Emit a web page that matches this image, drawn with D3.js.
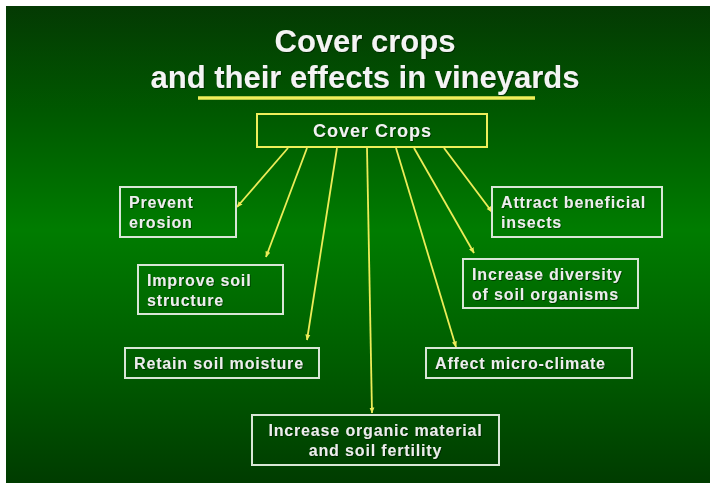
<!DOCTYPE html>
<html>
<head>
<meta charset="utf-8">
<script src="https://cdn.jsdelivr.net/npm/d3@7"></script>
<style>
  html, body { margin: 0; padding: 0; background: #fff; }
  svg { display: block; }
</style>
</head>
<body>
<div id="chart"></div>
<script>
// chart content
const titleLines = ['Cover crops', 'and their effects in vineyards'];
const rootLabel = 'Cover Crops';
const effectLabels = [
  ['Prevent', 'erosion'],
  ['Improve soil', 'structure'],
  ['Retain soil moisture'],
  ['Increase organic material', 'and soil fertility'],
  ['Affect micro-climate'],
  ['Increase diversity', 'of soil organisms'],
  ['Attract beneficial', 'insects']
];

// layout (pixel positions of the slide)
const rootBox = { x: 257, y: 114, w: 230, h: 33 };
const effectBoxes = [
  { x: 120, y: 187, w: 116, h: 50, align: 'start', from: 288, to: [237, 207] },
  { x: 138, y: 265, w: 145, h: 49, align: 'start', from: 307, to: [266, 257] },
  { x: 125, y: 348, w: 194, h: 30, align: 'start', from: 337, to: [307, 340] },
  { x: 252, y: 415, w: 247, h: 50, align: 'middle', from: 367, to: [372, 413] },
  { x: 426, y: 348, w: 206, h: 30, align: 'start', from: 396, to: [456, 347] },
  { x: 463, y: 259, w: 175, h: 49, align: 'start', from: 414, to: [474, 253] },
  { x: 492, y: 187, w: 170, h: 50, align: 'start', from: 444, to: [492, 212] }
];

const draw = () => {
  const dimensions = { width: 716, height: 487, inset: 6 };

  const svg = d3.select('#chart')
    .append('svg')
    .attr('width', dimensions.width)
    .attr('height', dimensions.height);

  const defs = svg.append('defs');

  const grad = defs.append('linearGradient')
    .attr('id', 'bg')
    .attr('x1', 0).attr('y1', 0)
    .attr('x2', 0).attr('y2', 1);
  grad.selectAll('stop')
    .data([[0, '#043a03'], [0.22, '#005800'], [0.47, '#007c00'], [0.75, '#005c00'], [1, '#003c00']])
    .join('stop')
    .attr('offset', (d) => d[0])
    .attr('stop-color', (d) => d[1]);

  const shadow = defs.append('filter')
    .attr('id', 'shadow')
    .attr('x', '-10%').attr('y', '-20%')
    .attr('width', '120%').attr('height', '140%');
  shadow.append('feDropShadow')
    .attr('dx', 0.8).attr('dy', 0.8)
    .attr('stdDeviation', 0.6)
    .attr('flood-color', '#000')
    .attr('flood-opacity', 0.55);

  defs.append('marker')
    .attr('id', 'head')
    .attr('markerUnits', 'userSpaceOnUse')
    .attr('viewBox', '0 0 6 6')
    .attr('refX', 5.5).attr('refY', 3)
    .attr('markerWidth', 6).attr('markerHeight', 6)
    .attr('orient', 'auto')
    .append('path')
    .attr('d', 'M0,0.5L6,3L0,5.5Z')
    .attr('fill', '#ecec58');

  svg.append('rect')
    .attr('x', dimensions.inset)
    .attr('y', dimensions.inset)
    .attr('width', dimensions.width - 2 * dimensions.inset - 0)
    .attr('height', dimensions.height - 2 * dimensions.inset + 2)
    .attr('fill', 'url(#bg)');

  // title
  svg.append('g')
    .selectAll('text')
    .data(titleLines)
    .join('text')
    .attr('x', 365)
    .attr('y', (_, i) => 52 + i * 36)
    .attr('text-anchor', 'middle')
    .attr('font-family', 'Liberation Sans, Arial, sans-serif')
    .attr('font-weight', 'bold')
    .attr('font-size', 31)
    .attr('fill', '#f4f4f4')
    .attr('filter', 'url(#shadow)')
    .text((d) => d);

  svg.append('line')
    .attr('x1', 198).attr('x2', 535)
    .attr('y1', 98).attr('y2', 98)
    .attr('stroke', '#eeee5a')
    .attr('stroke-width', 3.5);

  // arrows
  svg.append('g')
    .selectAll('line')
    .data(effectBoxes)
    .join('line')
    .attr('x1', (d) => d.from)
    .attr('y1', rootBox.y + rootBox.h + 1)
    .attr('x2', (d) => d.to[0])
    .attr('y2', (d) => d.to[1])
    .attr('stroke', '#ecec58')
    .attr('stroke-width', 1.8)
    .attr('marker-end', 'url(#head)');

  // root box
  svg.append('rect')
    .attr('x', rootBox.x).attr('y', rootBox.y)
    .attr('width', rootBox.w).attr('height', rootBox.h)
    .attr('fill', 'none')
    .attr('stroke', '#eeee5a')
    .attr('stroke-width', 2);

  svg.append('text')
    .attr('x', rootBox.x + rootBox.w / 2 + 0.5)
    .attr('y', rootBox.y + 23)
    .attr('text-anchor', 'middle')
    .attr('font-family', 'Liberation Sans, Arial, sans-serif')
    .attr('font-weight', 'bold')
    .attr('font-size', 18)
    .attr('letter-spacing', 1)
    .attr('fill', '#f2f2f2')
    .attr('filter', 'url(#shadow)')
    .text(rootLabel);

  // effect boxes
  const groups = svg.append('g')
    .selectAll('g')
    .data(effectLabels)
    .join('g');

  groups.append('rect')
    .attr('x', (_, i) => effectBoxes[i].x)
    .attr('y', (_, i) => effectBoxes[i].y)
    .attr('width', (_, i) => effectBoxes[i].w)
    .attr('height', (_, i) => effectBoxes[i].h)
    .attr('fill', 'none')
    .attr('stroke', '#d9e6d6')
    .attr('stroke-width', 2);

  groups.each(function(lines, i) {
    const b = effectBoxes[i];
    const tx = b.align === 'middle' ? b.x + b.w / 2 : b.x + 9;
    const top = b.y + (lines.length === 1 ? 21 : 21);
    d3.select(this)
      .selectAll('text')
      .data(lines)
      .join('text')
      .attr('x', tx)
      .attr('y', (_, j) => top + j * 19.5)
      .attr('text-anchor', b.align)
      .attr('font-family', 'Liberation Sans, Arial, sans-serif')
      .attr('font-weight', 'bold')
      .attr('font-size', 16)
      .attr('letter-spacing', 0.85)
      .attr('fill', '#ededed')
      .attr('filter', 'url(#shadow)')
      .text((d) => d);
  });
};

draw();
</script>
</body>
</html>
